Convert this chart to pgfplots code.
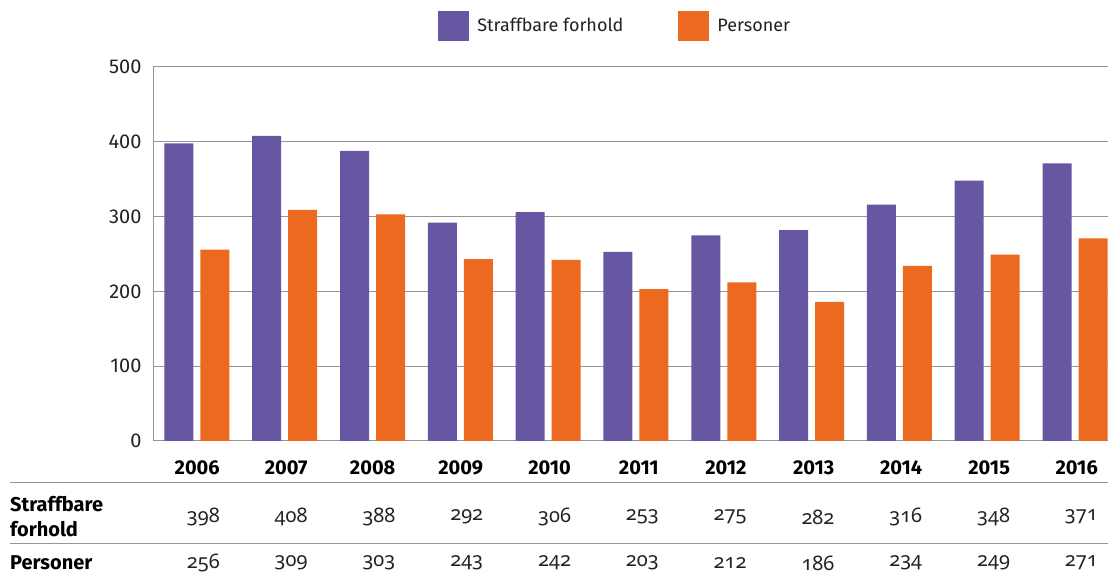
\documentclass[border=0pt]{standalone}
\usepackage{pgfplots}
\pgfplotsset{compat=1.18}
\usepackage{pgfplotstable}
\usepackage{fontspec}
\setmainfont{Fira Sans}[Numbers=Lining]
\newfontfamily\tabnum{Noto Sans}[Numbers=OldStyle]
\definecolor{cpurple}{HTML}{6757A2}
\definecolor{corange}{HTML}{EC6A1F}
\definecolor{cgrid}{HTML}{959595}
\definecolor{ctext}{HTML}{222222}

\pgfplotstableread{
x s p
0 398 256
1 408 309
2 388 303
3 292 243
4 306 242
5 253 203
6 275 212
7 282 186
8 316 234
9 348 249
10 371 271
}\data

\begin{document}
\begin{tikzpicture}[x=1bp,y=1bp,font=\fontsize{20bp}{25bp}\selectfont]
\path[use as bounding box] (-153,-135) rectangle (955,441);
\begin{axis}[
  at={(0,0)}, anchor=south west,
  scale only axis, width=955bp, height=374bp,
  xmin=-0.5, xmax=10.376, ymin=0, ymax=500,
  ybar=7bp, bar width=29bp,
  axis x line*=bottom, axis y line*=left,
  axis line style={cgrid, line width=1pt},
  ymajorgrids, grid style={cgrid, line width=1pt},
  ytick={0,100,...,500},
  xtick={0,...,10},
  xticklabels={2006,2007,2008,2009,2010,2011,2012,2013,2014,2015,2016},
  major tick length=0pt,
  /pgf/number format/assume math mode=true,
  yticklabel style={anchor=east, xshift=-8bp, text=ctext, font=\fontsize{20bp}{24bp}\selectfont},
  xticklabel style={anchor=east, inner sep=0pt, xshift=23bp, yshift=-27bp, text=black, font=\fontsize{20bp}{24bp}\selectfont\bfseries},
  legend style={draw=none, at={(0.484,1.11)}, anchor=center, legend columns=2,
    font=\fontsize{18bp}{22bp}\selectfont, text=ctext,
    /tikz/every even column/.append style={column sep=53bp}},
  legend image code/.code={\fill[#1] (0bp,-15bp) rectangle (31bp,15bp); \path (37bp,0bp);},
  clip=false,
]
\addplot[fill=cpurple, draw=none] table[x=x, y=s] {\data};
\addlegendentry{Straffbare forhold}
\addplot[fill=corange, draw=none] table[x=x, y=p] {\data};
\addlegendentry{Personer}
\end{axis}
\draw[cgrid, line width=1pt] (-143,-42) -- (955,-42);
\draw[cgrid, line width=1pt] (-143,-103) -- (955,-103);
\node[anchor=west, align=left, font=\fontsize{20bp}{25bp}\selectfont\bfseries, inner sep=0pt] at (-143,-76) {Straffbare\\forhold};
\node[anchor=west, font=\fontsize{20bp}{25bp}\selectfont\bfseries, inner sep=0pt] at (-143,-122) {Personer};
\foreach \i/\a/\b in {0/398/256,1/408/309,2/388/303,3/292/243,4/306/242,5/253/203,6/275/212,7/282/186,8/316/234,9/348/249,10/371/271}{
  \node[anchor=east, inner sep=0pt, text=ctext] at ({(\i+0.5)*87.808+23}, -76) {\tabnum\fontsize{20bp}{25bp}\selectfont \a};
  \node[anchor=east, inner sep=0pt, text=ctext] at ({(\i+0.5)*87.808+23}, -122) {\tabnum\fontsize{20bp}{25bp}\selectfont \b};
}
\end{tikzpicture}
\end{document}
